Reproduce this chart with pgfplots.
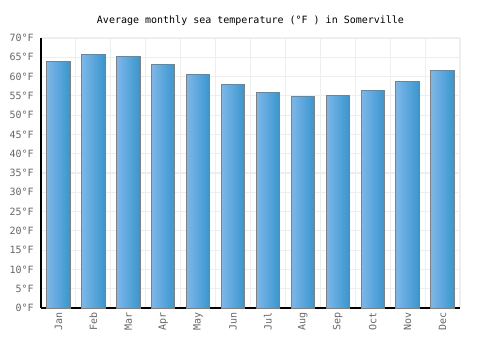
\documentclass[border=0pt]{standalone}
\usepackage{pgfplots}
\pgfplotsset{compat=1.18}
\usepackage{fontspec}
\setmainfont{DejaVu Sans Mono}
\definecolor{gridc}{HTML}{EEEEEE}
\definecolor{tickc}{HTML}{666666}
\definecolor{barl}{HTML}{7DB7EA}
\definecolor{barr}{HTML}{3896CE}
\pgfplotsset{mybar/.style={ybar, bar width=0.67, bar shift=0pt, draw=gray, line width=0.7pt, left color=barl, right color=barr}}
\begin{document}
\begin{tikzpicture}[x=0.75pt,y=0.75pt]
\path[use as bounding box] (-41,-42) rectangle (459,308);
\begin{axis}[
  at={(0,0)}, anchor=south west,
  scale only axis, width=314.25pt, height=202.5pt,
  xmin=-0.5, xmax=11.5, ymin=0, ymax=70,
  axis x line*=bottom, axis y line*=left,
  axis line style={black, line width=0.9pt},
  xtick={0,...,11},
  xticklabels={Jan,Feb,Mar,Apr,May,Jun,Jul,Aug,Sep,Oct,Nov,Dec},
  minor xtick={-0.5,0.5,...,11.5},
  ytick={0,5,...,70},
  yticklabel={\pgfmathprintnumber{\tick}°F},
  /pgf/number format/assume math mode=true,
  xminorgrids=true, ymajorgrids=true,
  grid style={gridc, line width=0.8pt},
  minor grid style={gridc, line width=0.8pt},
  major tick length=0pt, minor tick length=0pt,
  tick label style={font=\fontsize{7.5pt}{9pt}\selectfont, text=tickc},
  xticklabel style={rotate=90, anchor=east, xshift=0pt},
  yticklabel style={xshift=-2pt},
  title={Average monthly sea temperature (°F ) in Somerville},
  title style={font=\fontsize{7.5pt}{9pt}\selectfont, yshift=-0.5pt},
]
\addplot[mybar] coordinates {(0,64.0)};
\addplot[mybar] coordinates {(1,65.8)};
\addplot[mybar] coordinates {(2,65.3)};
\addplot[mybar] coordinates {(3,63.2)};
\addplot[mybar] coordinates {(4,60.6)};
\addplot[mybar] coordinates {(5,58.0)};
\addplot[mybar] coordinates {(6,55.9)};
\addplot[mybar] coordinates {(7,54.8)};
\addplot[mybar] coordinates {(8,55.1)};
\addplot[mybar] coordinates {(9,56.4)};
\addplot[mybar] coordinates {(10,58.7)};
\addplot[mybar] coordinates {(11,61.6)};
\end{axis}
\end{tikzpicture}
\end{document}
